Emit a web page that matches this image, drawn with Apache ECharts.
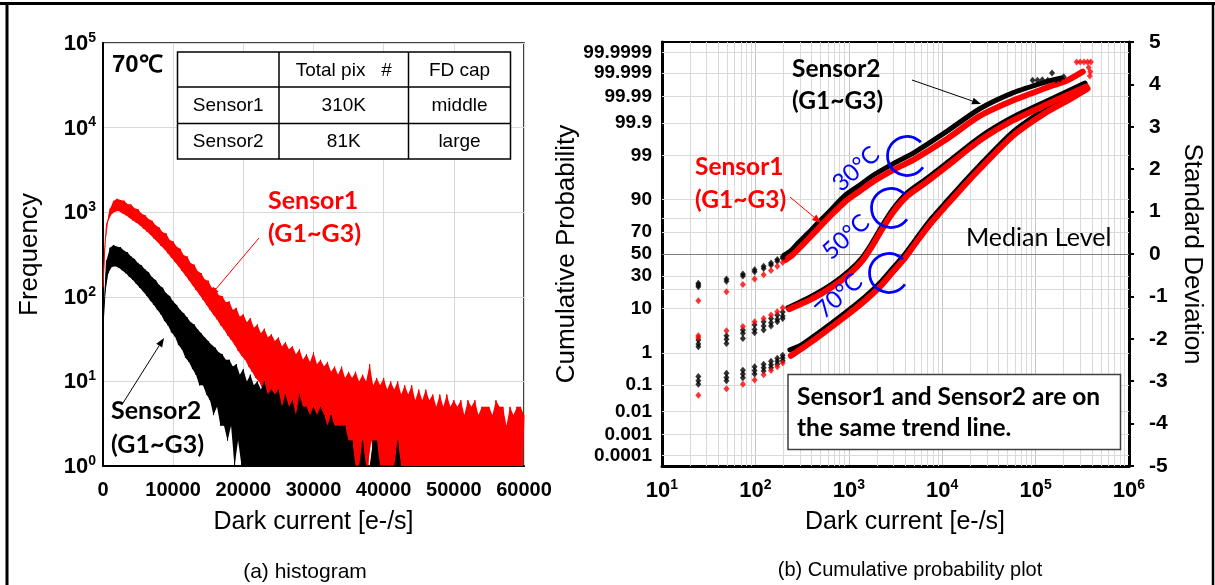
<!DOCTYPE html>
<html>
<head>
<meta charset="utf-8">
<script src="https://cdn.jsdelivr.net/npm/echarts/dist/echarts.min.js"></script>
<style>
  html, body { margin: 0; padding: 0; background: #fff; }
  #chart { width: 1215px; height: 585px; }
</style>
</head>
<body>
<div id="chart"></div>
<script>
// ---------- (a) histogram: dark-current counts at 70 degC ----------
// Upper edge of each noisy band, one bin every 500 e-/s starting at 0
const histBin = 500;
const sensor1Upper = [
  130, 720, 1100, 1360, 1440, 1390, 1370, 1250, 1230, 1110,
  1080, 960, 920, 830, 790, 700, 660, 580, 560, 470,
  450, 390, 370, 310, 300, 250, 240, 200, 190, 160,
  155, 128, 126, 104, 102, 86, 88, 70, 74, 58,
  62, 50, 56, 43, 47, 37, 42, 33, 36, 30,
  33, 26, 29, 24, 26, 21, 24, 18, 21, 17,
  22, 16, 18, 15, 17, 13, 15, 12, 15, 11,
  13, 11, 13, 10, 12, 10, 16, 9, 11, 9,
  11, 8, 10, 8, 10, 7, 9, 7, 9, 6,
  8, 6, 8, 6, 7, 5, 7, 5, 7, 5,
  6, 5, 6, 4, 6, 5, 6, 4, 5, 5,
  5, 4, 6, 5, 5, 3, 5, 4, 5, 5,
  4
];
// Lower edge of the band, bins offset by half a step (250, 750, ...)
const sensor1Lower = [
  380, 800, 950, 1020, 1030, 970, 920, 860, 800, 750,
  700, 640, 590, 540, 490, 445, 400, 365, 325, 290,
  258, 230, 202, 178, 157, 137, 120, 106, 92, 80,
  70, 61, 54, 46, 41, 35, 31, 27, 23, 20,
  18, 15, 13, 11, 10, 8, 7, 6, 5, 4,
  3, 3, 2, 2, 2, 1, 1, 2, 1, 1,
  2, 1, 1, 1, 2, 1, 1, 1, 1, 2,
  1, 1, 1, 1, 1, 1, 2, 1, 1, 1,
  1, 1, 1, 1, 1, 1, 1, 1, 1, 1,
  1, 1, 1, 1, 1, 1, 1, 1, 1, 1,
  1, 1, 1, 1, 1, 1, 1, 1, 1, 1,
  1, 1, 1, 1, 1, 1, 1, 1, 1, 1
];
const sensor2Upper = [
  45, 270, 380, 410, 390, 385, 350, 335, 300, 280,
  250, 235, 210, 195, 170, 158, 138, 128, 110, 102,
  88, 80, 70, 64, 57, 50, 47, 41, 37, 33,
  30, 27, 25, 22, 21, 18, 18, 15, 16, 12,
  14, 10, 12, 9, 10, 8, 10, 7, 8, 7,
  8, 5, 7, 5, 6, 4, 7, 5, 5, 4,
  5, 4, 5, 4, 3, 4, 3, 3, 3, 3,
  2, 2, 1, 1, 2, 1, 1, 2, 2, 1,
  1, 1, 1, 1, 2, 1
];
const sensor2Lower = [
  100, 190, 225, 230, 220, 205, 190, 172, 158, 142,
  128, 115, 102, 90, 80, 70, 62, 52, 46, 38,
  34, 27, 24, 19, 17, 14, 12, 9, 9, 7,
  6, 4, 5, 3, 3, 2, 3, 1, 2, 1,
  1, 1, 1, 1, 1, 1, 1, 1, 1, 1,
  1, 1, 1, 1, 1, 1, 1, 1, 1, 1,
  1, 1, 1, 1, 1, 1, 1, 1, 1, 1,
  1, 1, 1, 1, 1, 1, 1, 1, 1, 1,
  1, 1, 1, 1, 1
];
const histTicks = [0, 10000, 20000, 30000, 40000, 50000, 60000];

// Inset table
const tableHeader = ['', 'Total pix   #', 'FD cap'];
const tableRows = [
  ['Sensor1', '310K', 'middle'],
  ['Sensor2', '81K', 'large']
];

// ---------- (b) cumulative probability plot ----------
// Probability tick labels (percent) on the left axis
const probLabels = ['99.9999', '99.999', '99.99', '99.9', '99', '90', '70', '50',
                    '30', '10', '1', '0.1', '0.01', '0.001', '0.0001'];
const probExtraGrid = ['80', '20'];
const sigmaTicks = [-5, -4, -3, -2, -1, 0, 1, 2, 3, 4, 5];

// Quantised low dark-current columns (e-/s)
const lowColumns = [24.5, 49, 73.5, 98, 122.5, 147, 171.5, 196];
// Standard-deviation values of the low-end points, one list per column
const s2Low30 = [[-0.69, -0.73, -0.77], [-0.59, -0.64], [-0.47, -0.52], [-0.37, -0.42],
                 [-0.29, -0.34], [-0.21, -0.26], [-0.13, -0.17], [-0.06, -0.10]];
const s1Low30 = [[-1.10], [-0.89], [-0.72], [-0.59], [-0.49], [-0.39], [-0.29], [-0.20]];
const s2Low50 = [[-2.03, -2.12, -2.19], [-1.93, -2.01, -2.11], [-1.79, -1.87, -1.99], [-1.67, -1.78, -1.86],
                 [-1.60, -1.70, -1.79], [-1.52, -1.62, -1.70], [-1.44, -1.54, -1.60], [-1.37, -1.46, -1.52]];
const s1Low50 = [[-1.93, -1.97], [-1.81], [-1.71], [-1.60], [-1.52], [-1.44], [-1.36], [-1.27]];
const s2Low70 = [[-2.89, -2.99, -3.07], [-2.81, -2.91, -2.99], [-2.74, -2.83, -2.92], [-2.66, -2.75, -2.83],
                 [-2.60, -2.68, -2.76], [-2.53, -2.61, -2.68], [-2.46, -2.53, -2.60], [-2.39, -2.45, -2.52]];
const s1Low70 = [[-3.33], [-3.18], [-3.07], [-2.97], [-2.85], [-2.75], [-2.66], [-2.57]];

// Dense parts of the distributions: [dark current e-/s, standard deviation]
const s2Curve30 = [[205, -0.02], [240, 0.08], [290, 0.27], [370, 0.5], [470, 0.74], [650, 1.05],
                   [910, 1.38], [1300, 1.62], [1770, 1.84], [3100, 2.15], [4900, 2.38], [11000, 2.88],
                   [25000, 3.42], [57000, 3.8], [130000, 4.06], [190000, 4.15]];
const s1Curve30 = [[210, -0.14], [250, -0.02], [290, 0.12], [370, 0.36], [470, 0.6], [650, 0.92],
                   [910, 1.23], [1300, 1.48], [1770, 1.69], [3100, 2.0], [4900, 2.22], [11000, 2.7],
                   [25000, 3.25], [57000, 3.62], [130000, 3.92], [220000, 4.1], [320000, 4.3]];
const s2Curve50 = [[223, -1.27], [404, -0.99], [661, -0.71], [1030, -0.38], [1385, -0.09], [1770, 0.26],
                   [2265, 0.66], [2970, 1.06], [4200, 1.44], [6550, 1.75], [11250, 2.15], [25400, 2.76],
                   [57300, 3.23], [132000, 3.61], [338000, 4.03]];
const s1Curve50 = [[230, -1.3], [404, -1.06], [661, -0.78], [1030, -0.46], [1385, -0.17], [1770, 0.18],
                   [2265, 0.58], [2970, 0.98], [4200, 1.36], [6550, 1.67], [11250, 2.07], [25400, 2.68],
                   [57300, 3.15], [132000, 3.53], [350000, 3.95]];
const s2Curve70 = [[234, -2.26], [308, -2.15], [468, -1.87], [910, -1.39], [1490, -1.01], [2160, -0.68],
                   [2970, -0.33], [4000, 0.0], [5510, 0.42], [7780, 0.85], [11250, 1.25], [16700, 1.67],
                   [25400, 2.1], [57300, 2.88], [132000, 3.44], [217000, 3.7], [338000, 4.01]];
const s1Curve70 = [[240, -2.4], [308, -2.24], [468, -1.96], [910, -1.48], [1490, -1.1], [2160, -0.77],
                   [2970, -0.42], [4000, -0.09], [5510, 0.33], [7780, 0.76], [11250, 1.16], [16700, 1.58],
                   [25400, 2.01], [57300, 2.79], [132000, 3.35], [217000, 3.61], [360000, 3.9]];
// Sparse extreme-tail points
const s2Top = [[93000, 4.1], [105000, 4.1], [118000, 4.11], [135000, 4.1], [150000, 4.27],
               [165000, 4.1], [182000, 4.12], [200000, 4.18]];
const s1Top = [[275000, 4.53], [300000, 4.53], [330000, 4.53], [360000, 4.53], [390000, 4.53],
               [370000, 4.4], [385000, 4.3], [380000, 4.2]];

// ---------- helpers ----------
const FONT = '"Liberation Sans", Arial, sans-serif';
const CAL = 'Lato, "Open Sans", sans-serif';
const RED = '#ff0000';
const BLUE = '#0000ff';

// inverse standard-normal CDF (Acklam)
function probit(p) {
  const a = [-3.969683028665376e+01, 2.209460984245205e+02, -2.759285104469687e+02,
             1.383577518672690e+02, -3.066479806614716e+01, 2.506628277459239e+00];
  const b = [-5.447609879822406e+01, 1.615858368580409e+02, -1.556989798598866e+02,
             6.680131188771972e+01, -1.328068155288572e+01];
  const c = [-7.784894002430293e-03, -3.223964580411365e-01, -2.400758277161838e+00,
             -2.549732539343734e+00, 4.374664141464968e+00, 2.938163982698783e+00];
  const d = [7.784695709041462e-03, 3.224671290700398e-01, 2.445134137142996e+00, 3.754408661907416e+00];
  const pl = 0.02425;
  let q, r;
  if (p < pl) {
    q = Math.sqrt(-2 * Math.log(p));
    return (((((c[0]*q+c[1])*q+c[2])*q+c[3])*q+c[4])*q+c[5]) / ((((d[0]*q+d[1])*q+d[2])*q+d[3])*q+1);
  }
  if (p > 1 - pl) {
    q = Math.sqrt(-2 * Math.log(1 - p));
    return -(((((c[0]*q+c[1])*q+c[2])*q+c[3])*q+c[4])*q+c[5]) / ((((d[0]*q+d[1])*q+d[2])*q+d[3])*q+1);
  }
  q = p - 0.5; r = q * q;
  return (((((a[0]*r+a[1])*r+a[2])*r+a[3])*r+a[4])*r+a[5])*q / (((((b[0]*r+b[1])*r+b[2])*r+b[3])*r+b[4])*r+1);
}
const probZ = probLabels.map(s => probit(parseFloat(s) / 100));
const probExtraZ = probExtraGrid.map(s => probit(parseFloat(s) / 100));

function probLabelFor(z) {
  let best = 0;
  probZ.forEach((v, i) => { if (Math.abs(v - z) < Math.abs(probZ[best] - z)) best = i; });
  return probLabels[best];
}

function interleave(upper, lower, step) {
  const pts = [];
  for (let i = 0; i < upper.length; i++) {
    pts.push([i * step, upper[i]]);
    if (i < lower.length) pts.push([i * step + step / 2, lower[i]]);
  }
  return pts;
}
function columnPoints(cols) {
  const pts = [];
  cols.forEach((zs, i) => zs.forEach(z => pts.push([lowColumns[i], z])));
  return pts;
}
// filled band between the upper and lower edges of a histogram
function bandSeries(name, upper, lower, color, z) {
  return {
    name: name, type: 'custom', xAxisIndex: 0, yAxisIndex: 0, z: z, silent: true, clip: true,
    data: [0],
    renderItem: function (params, api) {
      const pts = [];
      upper.forEach((v, i) => pts.push(api.coord([i * histBin, v])));
      for (let i = lower.length - 1; i >= 0; i--) pts.push(api.coord([i * histBin + histBin / 2, lower[i]]));
      return { type: 'polygon', shape: { points: pts }, style: { fill: color } };
    }
  };
}

const powRich = {
  b: { fontSize: 22, fontWeight: 'bold', fontFamily: FONT, color: '#000', lineHeight: 24, verticalAlign: 'bottom' },
  s: { fontSize: 14, fontWeight: 'bold', fontFamily: FONT, color: '#000', lineHeight: 14, verticalAlign: 'top' }
};
function powLabel(v) {
  return '{b|10}{s|' + Math.round(Math.log10(v)) + '}';
}

// minor decade gridlines for the log axis
const minorX = [];
for (let e = 1; e <= 5; e++) for (let k = 2; k <= 9; k++) minorX.push(k * Math.pow(10, e));

// ---------- series ----------
const series = [];
series.push(bandSeries('Sensor1', sensor1Upper, sensor1Lower, RED, 3));
series.push({
  name: 'Sensor1', type: 'line', xAxisIndex: 0, yAxisIndex: 0,
  data: interleave(sensor1Upper, sensor1Lower, histBin),
  showSymbol: false, sampling: null, z: 3,
  lineStyle: { color: RED, width: 1 }
});
series.push(bandSeries('Sensor2', sensor2Upper, sensor2Lower, '#000', 4));
series.push({
  name: 'Sensor2', type: 'line', xAxisIndex: 0, yAxisIndex: 0,
  data: interleave(sensor2Upper, sensor2Lower, histBin),
  showSymbol: false, sampling: null, z: 4,
  lineStyle: { color: '#000', width: 1 }
});

// gridlines of the probability plot
series.push({
  name: 'grid', type: 'line', xAxisIndex: 1, yAxisIndex: 2, data: [], z: 1, silent: true,
  markLine: {
    silent: true, symbol: ['none', 'none'], label: { show: false }, animation: false,
    data: [].concat(
      minorX.map(v => ({ xAxis: v, lineStyle: { color: '#dadada', width: 1, type: 'solid' } })),
      probZ.concat(probExtraZ).filter(z => Math.abs(z) > 1e-6)
        .map(z => ({ yAxis: z, lineStyle: { color: '#dadada', width: 1, type: 'solid' } })),
      [{ yAxis: 0, lineStyle: { color: '#808080', width: 1, type: 'solid' } }]
    )
  }
});

const groups = [
  { k1: s1Curve30, k2: s2Curve30, l1: s1Low30, l2: s2Low30 },
  { k1: s1Curve50, k2: s2Curve50, l1: s1Low50, l2: s2Low50 },
  { k1: s1Curve70, k2: s2Curve70, l1: s1Low70, l2: s2Low70 }
];
[['k2', 'l2', '#000', 5, 'Sensor2'], ['k1', 'l1', RED, 6, 'Sensor1']].forEach(([ck, lk, color, w, nm]) => {
  groups.forEach(g => {
    series.push({
      name: nm, type: 'line', xAxisIndex: 1, yAxisIndex: 2, data: g[ck],
      smooth: 0.25, showSymbol: false, z: 5,
      lineStyle: { color: color, width: w, cap: 'round' }
    });
    series.push({
      name: nm, type: 'scatter', xAxisIndex: 1, yAxisIndex: 2, data: columnPoints(g[lk]),
      symbol: 'diamond', symbolSize: [6, 7], z: 5, itemStyle: { color: color }
    });
  });
  series.push({
    name: nm, type: 'scatter', xAxisIndex: 1, yAxisIndex: 2, data: nm === 'Sensor2' ? s2Top : s1Top,
    symbol: 'diamond', symbolSize: [6, 7], z: 5, itemStyle: { color: color }
  });
});

// ---------- annotations ----------
function text(t, x, y, font, fill, align, lineHeight) {
  const st = { text: t, x: x, y: y, font: font, fill: fill,
               align: align || 'left', textAlign: align || 'left',
               verticalAlign: 'middle', textVerticalAlign: 'middle' };
  if (lineHeight) st.lineHeight = lineHeight;
  return { type: 'text', z: 100, silent: true, style: st };
}
function arrow(x1, y1, x2, y2, color) {
  const ang = Math.atan2(y2 - y1, x2 - x1), len = 9, half = 3.5;
  const bx = x2 - len * Math.cos(ang), by = y2 - len * Math.sin(ang);
  const nx = -Math.sin(ang) * half, ny = Math.cos(ang) * half;
  return [
    { type: 'line', z: 100, silent: true, shape: { x1: x1, y1: y1, x2: bx, y2: by }, style: { stroke: color, lineWidth: 1 } },
    { type: 'polygon', z: 100, silent: true, shape: { points: [[x2, y2], [bx + nx, by + ny], [bx - nx, by - ny]] }, style: { fill: color } }
  ];
}
function cArc(cx, cy) {
  return { type: 'arc', z: 100, silent: true,
           shape: { cx: cx, cy: cy, r: 19.5, startAngle: 35 * Math.PI / 180, endAngle: 315 * Math.PI / 180, clockwise: true },
           style: { stroke: BLUE, lineWidth: 2.8, fill: null } };
}

const graphic = [];
// outer frame
graphic.push({ type: 'line', z: 100, silent: true, shape: { x1: 0, y1: 3.5, x2: 1215, y2: 3.5 }, style: { stroke: '#000', lineWidth: 3 } });
graphic.push({ type: 'line', z: 100, silent: true, shape: { x1: 7, y1: 2, x2: 7, y2: 585 }, style: { stroke: '#000', lineWidth: 3 } });
graphic.push({ type: 'line', z: 100, silent: true, shape: { x1: 1213, y1: 2, x2: 1213, y2: 585 }, style: { stroke: '#000', lineWidth: 2.5 } });

// histogram inset: temperature and table
graphic.push(text('70℃', 112, 65, 'bold 24px ' + FONT, '#000'));
const tx = [177.5, 279, 408.5, 510.5], ty = [52, 87, 123.5, 159];
graphic.push({ type: 'rect', z: 100, silent: true, shape: { x: tx[0], y: ty[0], width: tx[3] - tx[0], height: ty[3] - ty[0] },
               style: { fill: '#fff', stroke: '#000', lineWidth: 1.5 } });
[tx[1], tx[2]].forEach(x => graphic.push({ type: 'line', z: 100, silent: true, shape: { x1: x, y1: ty[0], x2: x, y2: ty[3] }, style: { stroke: '#000', lineWidth: 1.5 } }));
[ty[1], ty[2]].forEach(y => graphic.push({ type: 'line', z: 100, silent: true, shape: { x1: tx[0], y1: y, x2: tx[3], y2: y }, style: { stroke: '#000', lineWidth: 1.5 } }));
[tableHeader].concat(tableRows).forEach((row, r) => {
  row.forEach((cell, c) => {
    if (!cell) return;
    graphic.push(text(cell, (tx[c] + tx[c + 1]) / 2, (ty[r] + ty[r + 1]) / 2 + 1, '19px ' + FONT, '#000', 'center'));
  });
});

// histogram labels
graphic.push(text('Sensor1\n(G1~G3)', 268, 217, 'bold 25px ' + CAL, RED, 'left', 33));
graphic.push.apply(graphic, arrow(259, 238, 210, 296, RED));
graphic.push(text('Sensor2\n(G1~G3)', 111, 428, 'bold 25px ' + CAL, '#000', 'left', 34));
graphic.push.apply(graphic, arrow(123, 403, 164, 338, '#000'));

// probability plot labels
graphic.push(text('Sensor2\n(G1~G3)', 792, 85, 'bold 24.5px ' + CAL, '#000', 'left', 32));
graphic.push.apply(graphic, arrow(912, 80, 981, 104, '#000'));
graphic.push(text('Sensor1\n(G1~G3)', 695, 184, 'bold 24.5px ' + CAL, RED, 'left', 33));
graphic.push.apply(graphic, arrow(790, 197, 821, 223, RED));

const tempLabels = [['30°C', 856, 169, 907, 156], ['50°C', 846, 237, 891, 208], ['70°C', 839, 296, 889, 273]];
tempLabels.forEach(([t, x, y, cx, cy]) => {
  graphic.push({ type: 'text', z: 100, silent: true, x: x, y: y, rotation: 42 * Math.PI / 180,
                 style: { text: t, x: 0, y: 0, font: '24px ' + CAL, fill: BLUE,
                          align: 'center', textAlign: 'center', verticalAlign: 'middle', textVerticalAlign: 'middle' } });
  graphic.push(cArc(cx, cy));
});
graphic.push(text('Median Level', 966, 238, '25px ' + CAL, '#000'));

graphic.push({ type: 'rect', z: 100, silent: true, shape: { x: 788, y: 374.5, width: 332.5, height: 75 },
               style: { fill: '#fff', stroke: '#404040', lineWidth: 1.5 } });
graphic.push(text('Sensor1 and Sensor2 are on', 797, 397, 'bold 24.5px ' + CAL, '#000'));
graphic.push(text('the same trend line.', 797, 428, 'bold 24.5px ' + CAL, '#000'));

// captions
graphic.push(text('(a) histogram', 305, 572, '21px ' + FONT, '#000', 'center'));
graphic.push(text('(b) Cumulative probability plot', 910, 570, '20px ' + FONT, '#000', 'center'));

// ---------- chart ----------
const chart = echarts.init(document.getElementById('chart'), null, { renderer: 'canvas' });
const boldTick = { fontSize: 20, fontWeight: 'bold', fontFamily: FONT, color: '#000' };
const nameStyle = { fontSize: 25, fontFamily: FONT, color: '#000' };

chart.setOption({
  animation: false,
  backgroundColor: '#fff',
  grid: [
    { left: 103, top: 43, width: 421, height: 423, show: true, borderColor: '#000', borderWidth: 1.5, backgroundColor: 'transparent' },
    { left: 662, top: 42, width: 467, height: 424, show: true, borderColor: '#000', borderWidth: 2, backgroundColor: 'transparent' }
  ],
  xAxis: [
    {
      gridIndex: 0, type: 'value', min: histTicks[0], max: histTicks[histTicks.length - 1], interval: histTicks[1] - histTicks[0],
      axisLine: { show: true, onZero: false, lineStyle: { color: '#000', width: 2 } },
      axisTick: { show: false },
      axisLabel: Object.assign({ margin: 14, formatter: v => String(v) }, boldTick),
      splitLine: { show: true, lineStyle: { color: '#d9d9d9', width: 1 } },
      name: 'Dark current [e-/s]', nameLocation: 'middle', nameGap: 44, nameTextStyle: nameStyle
    },
    {
      gridIndex: 1, type: 'log', logBase: 10, min: 10, max: 1000000,
      axisLine: { show: true, onZero: false, lineStyle: { color: '#000', width: 3 } },
      axisTick: { show: false },
      axisLabel: { margin: 12, formatter: powLabel, rich: powRich },
      splitLine: { show: true, lineStyle: { color: '#c4c4c4', width: 1 } },
      name: 'Dark current [e-/s]', nameLocation: 'middle', nameGap: 44,
      nameTextStyle: Object.assign({ padding: [0, 0, 0, 19] }, nameStyle)
    }
  ],
  yAxis: [
    {
      gridIndex: 0, type: 'log', logBase: 10, min: 1, max: 100000,
      axisLine: { show: true, onZero: false, lineStyle: { color: '#000', width: 2 } },
      axisTick: { show: false },
      axisLabel: { margin: 7, formatter: powLabel, rich: powRich },
      splitLine: { show: true, lineStyle: { color: '#d9d9d9', width: 1 } },
      name: 'Frequency', nameLocation: 'middle', nameGap: 60,
      nameTextStyle: { fontSize: 26, fontFamily: FONT, color: '#000' }
    },
    {
      gridIndex: 1, type: 'value', min: -5, max: 5, position: 'left',
      axisLine: { show: true, onZero: false, lineStyle: { color: '#000', width: 3 } },
      axisTick: { show: false },
      axisLabel: { customValues: probZ, margin: 10, fontSize: 19, fontWeight: 'bold', fontFamily: FONT, color: '#000',
                   formatter: v => probLabelFor(v) },
      splitLine: { show: false },
      name: 'Cumulative Probability', nameLocation: 'middle', nameGap: 53,
      nameTextStyle: { fontSize: 26, fontFamily: FONT, color: '#000' }
    },
    {
      gridIndex: 1, type: 'value', min: sigmaTicks[0], max: sigmaTicks[sigmaTicks.length - 1], interval: 1, position: 'right',
      axisLine: { show: true, onZero: false, lineStyle: { color: '#000', width: 3 } },
      axisTick: { show: true, length: 5, lineStyle: { color: '#000', width: 2 } },
      axisLabel: { margin: 20, fontSize: 21, fontWeight: 'bold', fontFamily: FONT, color: '#000' },
      splitLine: { show: false },
      name: 'Standard Deviation', nameLocation: 'middle', nameGap: 50, nameRotate: -90,
      nameTextStyle: { fontSize: 26, fontFamily: FONT, color: '#000' }
    }
  ],
  series: series,
  graphic: graphic
});
</script>
</body>
</html>
